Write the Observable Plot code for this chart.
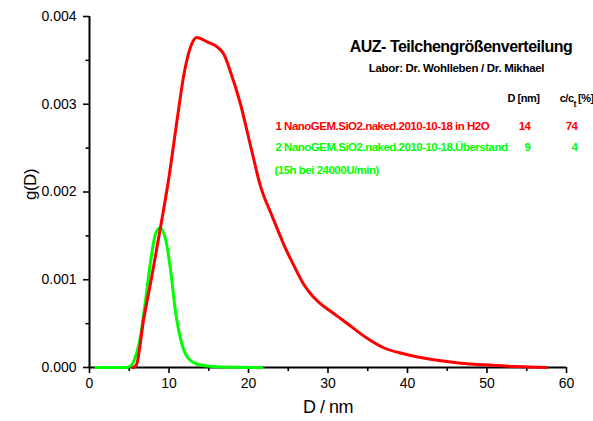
<!DOCTYPE html>
<html>
<head>
<meta charset="utf-8">
<script src="https://cdn.jsdelivr.net/npm/d3@7"></script>
<script src="https://cdn.jsdelivr.net/npm/@observablehq/plot@0.6"></script>
<style>
  html, body { margin: 0; padding: 0; background: #fff; }
  #chart g[aria-label="text"] text { letter-spacing: -0.5px; }
</style>
</head>
<body>
<div id="chart"></div>
<script>
// Particle size distribution g(D) from analytical ultracentrifugation (AUZ)
const sampleNames = [
  "1 NanoGEM.SiO2.naked.2010-10-18 in H2O",
  "2 NanoGEM.SiO2.naked.2010-10-18.Überstand"
];
const sampleNote = "(15h bei 24000U/min)";
const sampleColors = ["#ff0000", "#00ff00"];
const sampleD = ["14", "9"];      // D [nm]
const sampleConc = ["74", "4"];   // c/c_t [%]

// Sample 1: dispersion in water
const redD = [5.5, 5.9, 6.8, 7.9, 8.9, 10.0, 11.0, 11.9, 12.7, 13.5, 14.8, 16.1, 16.9, 17.7,
              19.0, 20.3, 21.5, 23.0, 24.4, 25.6, 27.0, 28.0, 29.0, 30.5, 32.0, 35.3, 37.0,
              39.5, 43.3, 46.7, 49.6, 53.5, 57.5];
const redG = [0, 0.00003, 0.00054, 0.00107, 0.00158, 0.00217, 0.00281, 0.00335, 0.00365, 0.00376,
              0.00371, 0.00365, 0.00357, 0.00338, 0.00300, 0.00251, 0.00207, 0.00172, 0.00141,
              0.00118, 0.00094, 0.00082, 0.00073, 0.00063, 0.00053, 0.00031, 0.000225,
              0.000156, 0.000088, 0.000049, 0.00003, 0.000012, 0];

// Sample 2: supernatant after centrifugation
const greenD = [0.8, 4.5, 5.2, 5.6, 6.4, 7.0, 7.7, 8.3, 8.85, 9.6, 10.2, 10.8, 11.5, 12.3,
                13.5, 15.0, 17.0, 21.7];
const greenG = [0, 0, 0.00002, 0.00008, 0.00035, 0.00073, 0.00122, 0.00152, 0.00159, 0.00145,
                0.00111, 0.00065, 0.00031, 0.00012, 0.00004, 0.000015, 0.000005, 0];

const xMajor = [0, 10, 20, 30, 40, 50, 60];
const xMinor = [5, 15, 25, 35, 45, 55];
const yMajor = [0, 0.001, 0.002, 0.003, 0.004];
const yMinor = [0.0005, 0.0015, 0.0025, 0.0035];

const title = "AUZ- Teilchengrößenverteilung";
const subtitle = "Labor: Dr. Wohlleben / Dr. Mikhael";

const redRows = redD.map((d, i) => ({D: d, g: redG[i]}));
const greenRows = greenD.map((d, i) => ({D: d, g: greenG[i]}));

const M = {left: 89, top: 16, right: 27, bottom: 54};
const FONT = "'Liberation Sans', Arial, sans-serif";

// text placed in pixel offsets from the frame's top-left corner
function note(str, px, py, opts = {}) {
  return Plot.text([str], {
    text: d => d,
    frameAnchor: "top-left",
    dx: px - M.left,
    dy: py - M.top,
    lineAnchor: "middle",
    fontFamily: FONT,
    fontWeight: "bold",
    fill: "black",
    ...opts
  });
}

const chart = Plot.plot({
  width: 593,
  height: 421,
  marginLeft: M.left,
  marginRight: M.right,
  marginTop: M.top,
  marginBottom: M.bottom,
  style: {fontFamily: FONT, color: "black", background: "white"},
  x: {domain: [0, 60]},
  y: {domain: [0, 0.004]},
  marks: [
    // axes
    Plot.axisY({ticks: yMajor, tickSize: 6, tickPadding: 7, strokeWidth: 1.6,
                tickFormat: d3.format(".3f"), fontSize: 14, label: null}),
    Plot.axisY({ticks: yMinor, tickSize: 3.5, strokeWidth: 1.6, tickFormat: () => "", label: null}),
    Plot.axisX({ticks: xMajor, tickSize: 6, tickPadding: 5, strokeWidth: 1.6,
                tickFormat: d3.format("d"), fontSize: 14, label: null}),
    Plot.axisX({ticks: xMinor, tickSize: 4, strokeWidth: 1.6, tickFormat: () => "", label: null}),
    Plot.ruleY([0], {stroke: "black", strokeWidth: 2}),
    Plot.ruleX([0], {stroke: "black", strokeWidth: 2}),
    // distributions
    Plot.line(greenRows, {x: "D", y: "g", stroke: sampleColors[1], strokeWidth: 3, curve: "monotone-x"}),
    Plot.line(redRows, {x: "D", y: "g", stroke: sampleColors[0], strokeWidth: 3, curve: "monotone-x"}),
    // axis titles
    Plot.text(["D / nm"], {text: d => d, frameAnchor: "bottom", dy: 45, fontSize: 18,
                           fontFamily: FONT, fill: "black"}),
    Plot.text(["g(D)"], {text: d => d, frameAnchor: "left", dx: -59, dy: 8, rotate: -90,
                         fontSize: 17, fontFamily: FONT, fill: "black"}),
    // header block
    note(title, 460.5, 46, {textAnchor: "middle", fontSize: 16}),
    note(subtitle, 456, 68, {textAnchor: "middle", fontSize: 11.5}),
    note("D [nm]", 507, 98, {textAnchor: "start", fontSize: 11}),
    note("c/c", 573, 98, {textAnchor: "end", fontSize: 11}),
    note("t", 573, 104, {textAnchor: "start", fontSize: 9}),
    note("[%]", 577.5, 98, {textAnchor: "start", fontSize: 11}),
    // sample rows
    note(sampleNames[0], 275, 126, {textAnchor: "start", fontSize: 11.5, fill: sampleColors[0]}),
    note(sampleD[0], 530, 126, {textAnchor: "end", fontSize: 11.5, fill: sampleColors[0]}),
    note(sampleConc[0], 577, 126, {textAnchor: "end", fontSize: 11.5, fill: sampleColors[0]}),
    note(sampleNames[1], 275, 147, {textAnchor: "start", fontSize: 11.5, fill: sampleColors[1]}),
    note(sampleD[1], 530, 147, {textAnchor: "end", fontSize: 11.5, fill: sampleColors[1]}),
    note(sampleConc[1], 577, 147, {textAnchor: "end", fontSize: 11.5, fill: sampleColors[1]}),
    note(sampleNote, 274, 170, {textAnchor: "start", fontSize: 11.5, fill: sampleColors[1]})
  ]
});

// the subtitle is set a little less tightly than the rest of the header
d3.select(chart).selectAll('g[aria-label="text"] text')
  .filter(function () { return this.textContent === subtitle; })
  .style("letter-spacing", "-0.3px");

document.getElementById("chart").appendChild(chart);
</script>
</body>
</html>
